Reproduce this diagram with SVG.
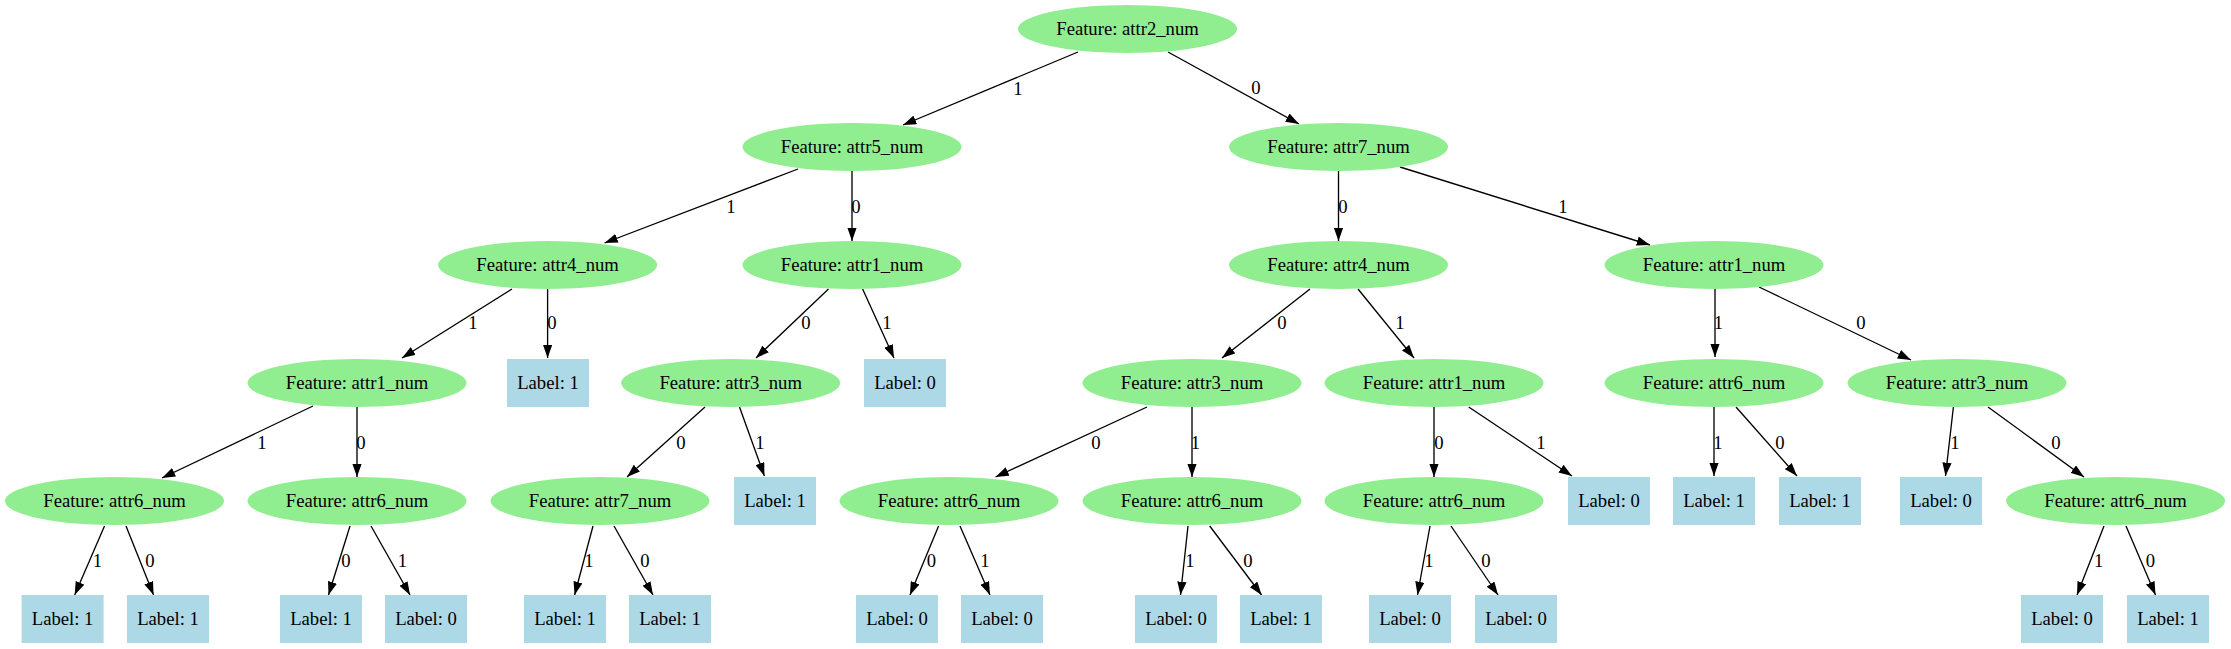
<svg xmlns="http://www.w3.org/2000/svg" width="2231" height="649" viewBox="0 0 2231 649">
<defs>
<marker id="ah" viewBox="0 0 10 7" refX="10" refY="3.5" markerWidth="13.3" markerHeight="9.3" markerUnits="userSpaceOnUse" orient="auto"><path d="M0,0 L10,3.5 L0,7 Z" fill="#000"/></marker>
</defs>
<style>
text{font-family:"Liberation Serif","Times New Roman",serif;font-size:18.67px;fill:#000;text-anchor:middle}
.f ellipse{fill:#90ee90}
.l rect{fill:#add8e6}
#edges line{stroke:#000;stroke-width:1.33;marker-end:url(#ah)}
</style>
<rect width="2231" height="649" fill="#fff"/>
<g id="edges">
<line x1="1078" y1="52" x2="903" y2="125"/><text x="1018" y="95">1</text>
<line x1="1168" y1="52" x2="1299" y2="124"/><text x="1256" y="94">0</text>
<line x1="798" y1="169" x2="604.5" y2="243"/><text x="731" y="213">1</text>
<line x1="852" y1="171" x2="852" y2="241"/><text x="856" y="213">0</text>
<line x1="1338.5" y1="171" x2="1338.5" y2="241"/><text x="1343" y="213">0</text>
<line x1="1400" y1="167" x2="1650" y2="245"/><text x="1563" y="213">1</text>
<line x1="512" y1="289" x2="402" y2="358"/><text x="473" y="329">1</text>
<line x1="547.6" y1="289" x2="547.6" y2="358"/><text x="552" y="329">0</text>
<line x1="828.5" y1="289" x2="756" y2="358"/><text x="806" y="329">0</text>
<line x1="862.6" y1="289" x2="894" y2="358"/><text x="887" y="329">1</text>
<line x1="1310" y1="289" x2="1222" y2="358"/><text x="1282" y="329">0</text>
<line x1="1358" y1="289" x2="1414" y2="358"/><text x="1400" y="329">1</text>
<line x1="1715" y1="289" x2="1715" y2="357"/><text x="1718.5" y="329">1</text>
<line x1="1759" y1="287" x2="1911" y2="360"/><text x="1861" y="329">0</text>
<line x1="313" y1="406" x2="162" y2="478"/><text x="262" y="449">1</text>
<line x1="357" y1="407" x2="357" y2="477"/><text x="361" y="449">0</text>
<line x1="705" y1="407" x2="627" y2="477"/><text x="681" y="449">0</text>
<line x1="739.5" y1="407" x2="764.4" y2="476"/><text x="760" y="449">1</text>
<line x1="1147" y1="407" x2="995.5" y2="477"/><text x="1096" y="449">0</text>
<line x1="1192" y1="407" x2="1192" y2="477"/><text x="1195.4" y="449">1</text>
<line x1="1434" y1="407" x2="1434" y2="477"/><text x="1439" y="449">0</text>
<line x1="1468.7" y1="407" x2="1572" y2="476"/><text x="1541" y="449">1</text>
<line x1="1714" y1="407" x2="1714" y2="476"/><text x="1718" y="449">1</text>
<line x1="1736" y1="407" x2="1797" y2="476"/><text x="1780" y="449">0</text>
<line x1="1953.4" y1="407" x2="1945.5" y2="476"/><text x="1955" y="449">1</text>
<line x1="1988" y1="407" x2="2084" y2="477"/><text x="2056" y="449">0</text>
<line x1="104.5" y1="526" x2="74.7" y2="595"/><text x="97.4" y="567">1</text>
<line x1="126" y1="526" x2="153.6" y2="595"/><text x="150" y="567">0</text>
<line x1="350" y1="526" x2="328.5" y2="595"/><text x="346" y="567">0</text>
<line x1="371" y1="526" x2="410" y2="595"/><text x="402.5" y="567">1</text>
<line x1="593" y1="526" x2="574.6" y2="595"/><text x="589" y="567">1</text>
<line x1="614" y1="526" x2="653" y2="595"/><text x="645" y="567">0</text>
<line x1="938.6" y1="526" x2="910" y2="595"/><text x="931.5" y="567">0</text>
<line x1="960" y1="526" x2="990" y2="595"/><text x="985" y="567">1</text>
<line x1="1188" y1="526" x2="1180.5" y2="595"/><text x="1190" y="567">1</text>
<line x1="1209.7" y1="526" x2="1261.6" y2="595"/><text x="1248" y="567">0</text>
<line x1="1430" y1="526" x2="1417.5" y2="595"/><text x="1429" y="567">1</text>
<line x1="1451" y1="526" x2="1498" y2="595"/><text x="1486" y="567">0</text>
<line x1="2104" y1="526" x2="2077" y2="595"/><text x="2098.6" y="567">1</text>
<line x1="2126" y1="526" x2="2155.5" y2="595"/><text x="2150.5" y="567">0</text>
</g>
<g id="n0" class="f"><ellipse cx="1127.5" cy="29" rx="109.5" ry="24"/><text x="1127.5" y="35">Feature: attr2_num</text></g>
<g id="n1" class="f"><ellipse cx="852" cy="147" rx="109.5" ry="24"/><text x="852" y="153">Feature: attr5_num</text></g>
<g id="n2" class="f"><ellipse cx="1338.5" cy="147" rx="109.5" ry="24"/><text x="1338.5" y="153">Feature: attr7_num</text></g>
<g id="n3" class="f"><ellipse cx="547.6" cy="265" rx="109.5" ry="24"/><text x="547.6" y="271">Feature: attr4_num</text></g>
<g id="n4" class="f"><ellipse cx="852" cy="265" rx="109.5" ry="24"/><text x="852" y="271">Feature: attr1_num</text></g>
<g id="n5" class="f"><ellipse cx="1338.5" cy="265" rx="109.5" ry="24"/><text x="1338.5" y="271">Feature: attr4_num</text></g>
<g id="n6" class="f"><ellipse cx="1714" cy="265" rx="109.5" ry="24"/><text x="1714" y="271">Feature: attr1_num</text></g>
<g id="n7" class="f"><ellipse cx="357" cy="383" rx="109.5" ry="24"/><text x="357" y="389">Feature: attr1_num</text></g>
<g id="n8" class="l"><rect x="507" y="359" width="82" height="48"/><text x="548" y="389">Label: 1</text></g>
<g id="n9" class="f"><ellipse cx="730.7" cy="383" rx="109.5" ry="24"/><text x="730.7" y="389">Feature: attr3_num</text></g>
<g id="n10" class="l"><rect x="864" y="359" width="82" height="48"/><text x="905" y="389">Label: 0</text></g>
<g id="n11" class="f"><ellipse cx="1192" cy="383" rx="109.5" ry="24"/><text x="1192" y="389">Feature: attr3_num</text></g>
<g id="n12" class="f"><ellipse cx="1434" cy="383" rx="109.5" ry="24"/><text x="1434" y="389">Feature: attr1_num</text></g>
<g id="n13" class="f"><ellipse cx="1714" cy="383" rx="109.5" ry="24"/><text x="1714" y="389">Feature: attr6_num</text></g>
<g id="n14" class="f"><ellipse cx="1957" cy="383" rx="109.5" ry="24"/><text x="1957" y="389">Feature: attr3_num</text></g>
<g id="n15" class="f"><ellipse cx="114.5" cy="501" rx="109.5" ry="24"/><text x="114.5" y="507">Feature: attr6_num</text></g>
<g id="n16" class="f"><ellipse cx="357" cy="501" rx="109.5" ry="24"/><text x="357" y="507">Feature: attr6_num</text></g>
<g id="n17" class="f"><ellipse cx="600" cy="501" rx="109.5" ry="24"/><text x="600" y="507">Feature: attr7_num</text></g>
<g id="n18" class="l"><rect x="734" y="477" width="82" height="48"/><text x="775" y="507">Label: 1</text></g>
<g id="n19" class="f"><ellipse cx="949" cy="501" rx="109.5" ry="24"/><text x="949" y="507">Feature: attr6_num</text></g>
<g id="n20" class="f"><ellipse cx="1192" cy="501" rx="109.5" ry="24"/><text x="1192" y="507">Feature: attr6_num</text></g>
<g id="n21" class="f"><ellipse cx="1434" cy="501" rx="109.5" ry="24"/><text x="1434" y="507">Feature: attr6_num</text></g>
<g id="n22" class="l"><rect x="1568" y="477" width="82" height="48"/><text x="1609" y="507">Label: 0</text></g>
<g id="n23" class="l"><rect x="1673" y="477" width="82" height="48"/><text x="1714" y="507">Label: 1</text></g>
<g id="n24" class="l"><rect x="1779" y="477" width="82" height="48"/><text x="1820" y="507">Label: 1</text></g>
<g id="n25" class="l"><rect x="1900" y="477" width="82" height="48"/><text x="1941" y="507">Label: 0</text></g>
<g id="n26" class="f"><ellipse cx="2115.6" cy="501" rx="109.5" ry="24"/><text x="2115.6" y="507">Feature: attr6_num</text></g>
<g id="n27" class="l"><rect x="21.6" y="595" width="82" height="48"/><text x="62.6" y="625">Label: 1</text></g>
<g id="n28" class="l"><rect x="127" y="595" width="82" height="48"/><text x="168" y="625">Label: 1</text></g>
<g id="n29" class="l"><rect x="280" y="595" width="82" height="48"/><text x="321" y="625">Label: 1</text></g>
<g id="n30" class="l"><rect x="385" y="595" width="82" height="48"/><text x="426" y="625">Label: 0</text></g>
<g id="n31" class="l"><rect x="524" y="595" width="82" height="48"/><text x="565" y="625">Label: 1</text></g>
<g id="n32" class="l"><rect x="629" y="595" width="82" height="48"/><text x="670" y="625">Label: 1</text></g>
<g id="n33" class="l"><rect x="856" y="595" width="82" height="48"/><text x="897" y="625">Label: 0</text></g>
<g id="n34" class="l"><rect x="961" y="595" width="82" height="48"/><text x="1002" y="625">Label: 0</text></g>
<g id="n35" class="l"><rect x="1135" y="595" width="82" height="48"/><text x="1176" y="625">Label: 0</text></g>
<g id="n36" class="l"><rect x="1240" y="595" width="82" height="48"/><text x="1281" y="625">Label: 1</text></g>
<g id="n37" class="l"><rect x="1369" y="595" width="82" height="48"/><text x="1410" y="625">Label: 0</text></g>
<g id="n38" class="l"><rect x="1475" y="595" width="82" height="48"/><text x="1516" y="625">Label: 0</text></g>
<g id="n39" class="l"><rect x="2021" y="595" width="82" height="48"/><text x="2062" y="625">Label: 0</text></g>
<g id="n40" class="l"><rect x="2127" y="595" width="82" height="48"/><text x="2168" y="625">Label: 1</text></g>
</svg>
